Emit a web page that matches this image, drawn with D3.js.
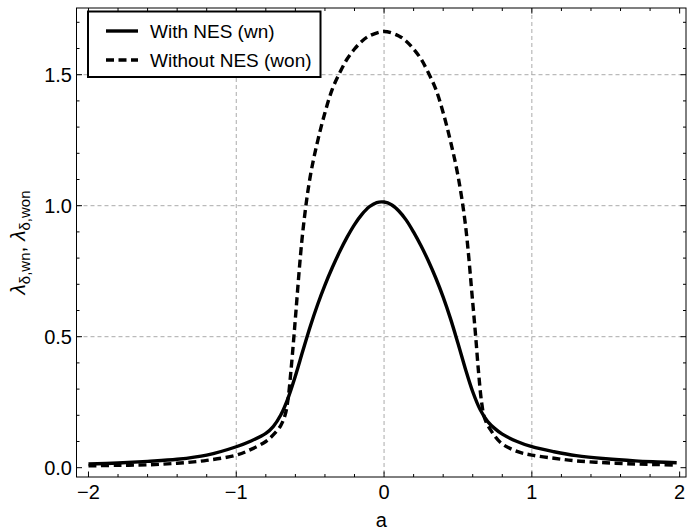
<!DOCTYPE html>
<html><head><meta charset="utf-8">
<script src="https://cdn.jsdelivr.net/npm/d3@7"></script>
<style>body{margin:0;background:#fff}svg{display:block}text{font-family:"Liberation Sans",Arial,Helvetica,sans-serif}</style>
</head><body><svg id="c" width="687" height="532"></svg>
<script>
// ---- data ----
const aWith = [-2.0,-1.8,-1.6,-1.4,-1.2,-1.0,-0.9,-0.8,-0.75,-0.7,-0.65,-0.6,-0.55,-0.5,-0.45,-0.4,-0.35,-0.3,-0.25,-0.2,-0.15,-0.1,-0.05,0,0.05,0.1,0.15,0.2,0.25,0.3,0.35,0.4,0.45,0.5,0.55,0.6,0.65,0.7,0.75,0.8,0.9,1.0,1.15,1.3,1.5,1.7,1.85,1.98];
const yWith = [0.014,0.018,0.024,0.032,0.048,0.08,0.102,0.131,0.157,0.2,0.265,0.35,0.445,0.538,0.622,0.697,0.764,0.825,0.88,0.928,0.967,0.996,1.012,1.014,1.004,0.98,0.945,0.899,0.847,0.789,0.724,0.651,0.568,0.475,0.378,0.29,0.222,0.177,0.149,0.128,0.1,0.08,0.061,0.046,0.034,0.026,0.022,0.019];
const aWithout = [-2.0,-1.8,-1.6,-1.4,-1.2,-1.0,-0.9,-0.8,-0.75,-0.7,-0.67,-0.65,-0.63,-0.61,-0.6,-0.55,-0.5,-0.45,-0.4,-0.35,-0.3,-0.25,-0.2,-0.15,-0.1,0,0.1,0.15,0.2,0.25,0.3,0.35,0.4,0.45,0.5,0.55,0.6,0.62,0.64,0.66,0.68,0.72,0.79,0.9,1.0,1.15,1.3,1.5,1.7,1.85,1.98];
const yWithout = [0.007,0.009,0.011,0.017,0.028,0.048,0.07,0.1,0.125,0.16,0.2,0.26,0.37,0.5,0.57,0.9,1.11,1.245,1.355,1.445,1.507,1.56,1.598,1.628,1.648,1.665,1.648,1.628,1.598,1.56,1.507,1.445,1.355,1.245,1.115,0.93,0.63,0.5,0.36,0.25,0.19,0.145,0.095,0.062,0.048,0.036,0.026,0.019,0.014,0.012,0.01];
const xTickLabels = ["\u22122","\u22121","0","1","2"];
const xTickValues = [-2,-1,0,1,2];
const yTickLabels = ["0.0","0.5","1.0","1.5"];
const yTickValues = [0,0.5,1.0,1.5];
const seriesNames = ["With NES (wn)","Without NES (won)"];
const xTitle = "a";

// ---- layout ----
const svg = d3.select("#c");
const L = 76.5, R = 686, T = 8, B = 477;
const x = d3.scaleLinear().domain([-2.081, 2.043]).range([L, R]);
const y = d3.scaleLinear().domain([-0.0355, 1.7546]).range([B, T]);

// grid
const gridX = [-1,0,1], gridY = [0.5,1.0,1.5];
svg.append("g").selectAll("line").data(gridX).join("line")
  .attr("x1",d=>x(d)).attr("x2",d=>x(d)).attr("y1",T).attr("y2",B)
  .attr("stroke","#aaa").attr("stroke-width",1).attr("stroke-dasharray","4,3");
svg.append("g").selectAll("line").data(gridY).join("line")
  .attr("y1",d=>y(d)).attr("y2",d=>y(d)).attr("x1",L).attr("x2",R)
  .attr("stroke","#aaa").attr("stroke-width",1).attr("stroke-dasharray","4,3");

// curves
const line = d3.line().x(d=>x(d[0])).y(d=>y(d[1])).curve(d3.curveCatmullRom.alpha(0.5));
svg.append("clipPath").attr("id","cp").append("rect").attr("x",L).attr("y",T).attr("width",R-L).attr("height",B-T);
svg.append("path").datum(aWith.map((a,i)=>[a,yWith[i]])).attr("d",line)
  .attr("fill","none").attr("stroke","#000").attr("stroke-width",3.4).attr("clip-path","url(#cp)");
svg.append("path").datum(aWithout.map((a,i)=>[a,yWithout[i]])).attr("d",line)
  .attr("fill","none").attr("stroke","#000").attr("stroke-width",3.4).attr("stroke-dasharray","8,4.5").attr("clip-path","url(#cp)");

// frame + ticks
const major = 5.5, minor = 3;
const fr = svg.append("g").attr("stroke","#000").attr("stroke-width",1);
fr.append("rect").attr("x",L).attr("y",T).attr("width",R-L).attr("height",B-T).attr("fill","none");
const xMinor = d3.range(-20,21,2).map(v=>v/10).filter(v=>!xTickValues.includes(v));
const yMinor = d3.range(0,18,1).map(v=>v/10).filter(v=>!yTickValues.some(t=>Math.abs(t-v)<1e-9));
xTickValues.forEach(v=>{fr.append("line").attr("x1",x(v)).attr("x2",x(v)).attr("y1",B).attr("y2",B-major);
  fr.append("line").attr("x1",x(v)).attr("x2",x(v)).attr("y1",T).attr("y2",T+major);});
xMinor.forEach(v=>{fr.append("line").attr("x1",x(v)).attr("x2",x(v)).attr("y1",B).attr("y2",B-minor);
  fr.append("line").attr("x1",x(v)).attr("x2",x(v)).attr("y1",T).attr("y2",T+minor);});
yTickValues.forEach(v=>{fr.append("line").attr("y1",y(v)).attr("y2",y(v)).attr("x1",L).attr("x2",L+major);
  fr.append("line").attr("y1",y(v)).attr("y2",y(v)).attr("x1",R).attr("x2",R-major);});
yMinor.forEach(v=>{fr.append("line").attr("y1",y(v)).attr("y2",y(v)).attr("x1",L).attr("x2",L+minor);
  fr.append("line").attr("y1",y(v)).attr("y2",y(v)).attr("x1",R).attr("x2",R-minor);});

// tick labels
svg.append("g").selectAll("text").data(xTickValues).join("text")
  .attr("x",d=>x(d)).attr("y",499).attr("text-anchor","middle").attr("font-size",20).text((d,i)=>xTickLabels[i]);
svg.append("g").selectAll("text").data(yTickValues).join("text")
  .attr("x",72).attr("y",d=>y(d)+7).attr("text-anchor","end").attr("font-size",20).text((d,i)=>yTickLabels[i]);

// axis titles
svg.append("text").attr("x",(L+R)/2).attr("y",527).attr("text-anchor","middle").attr("font-size",20).text(xTitle);
const yt = svg.append("text").attr("transform",`translate(25,${(T+B)/2}) rotate(-90)`).attr("text-anchor","middle").attr("font-size",21);
yt.append("tspan").attr("font-style","italic").text("λ");
yt.append("tspan").attr("font-size",15).attr("dy",5).text("δ,wn");
yt.append("tspan").attr("dy",-5).text(", ");
yt.append("tspan").attr("font-style","italic").text("λ");
yt.append("tspan").attr("font-size",15).attr("dy",5).text("δ,won");

// legend
const lg = svg.append("g");
lg.append("rect").attr("x",88).attr("y",11.5).attr("width",232.5).attr("height",65.5).attr("fill","#fff").attr("stroke","#000").attr("stroke-width",2);
[0,1].forEach(i=>{
  const yy = 31 + i*29;
  lg.append("line").attr("x1",106).attr("x2",138).attr("y1",yy).attr("y2",yy).attr("stroke","#000").attr("stroke-width",3.4)
    .attr("stroke-dasharray", i===1 ? "8,4.5" : null);
  lg.append("text").attr("x",150).attr("y",yy+7).attr("font-size",19).text(seriesNames[i]);
});
</script></body></html>
